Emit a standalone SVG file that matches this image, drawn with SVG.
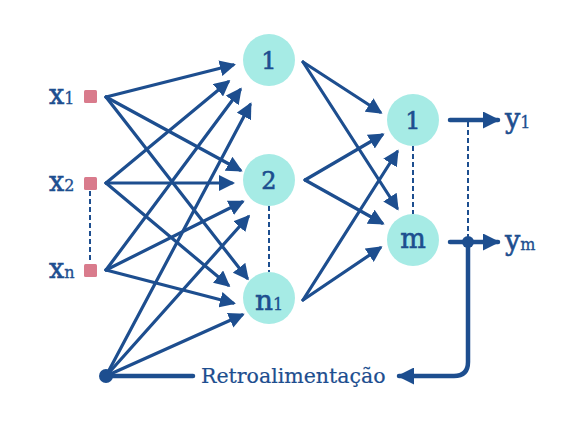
<svg xmlns="http://www.w3.org/2000/svg" width="584" height="446" viewBox="0 0 584 446">
<style>
.ln{stroke:#1d4e8f;stroke-width:3.2;fill:none;stroke-linecap:round}
.thk{stroke:#1d4e8f;stroke-width:4.5;fill:none;stroke-linecap:round}
.dash{stroke:#1d4e8f;stroke-width:2;stroke-dasharray:5,3;fill:none}
.node{fill:#a6ebe5}
.inp{fill:#d97b8c}
.t{font-family:"DejaVu Serif","Liberation Serif",serif;fill:#1d4e8f}
.b{stroke:#1d4e8f;stroke-width:0.6}
</style>
<defs>
<marker id="ah" markerUnits="userSpaceOnUse" viewBox="0 0 16 16" markerWidth="16" markerHeight="16" refX="13" refY="8" orient="auto">
<path d="M0,0 L16,8 L0,16 z" fill="#1d4e8f"/>
</marker>
<marker id="ah2" markerUnits="userSpaceOnUse" viewBox="0 0 17 17" markerWidth="17" markerHeight="17" refX="15" refY="8.5" orient="auto">
<path d="M0,0 L17,8.5 L0,17 z" fill="#1d4e8f"/>
</marker>
</defs>
<rect width="584" height="446" fill="#ffffff"/>
<g id="connectors">
<line class="ln" x1="106" y1="97" x2="233" y2="65" marker-end="url(#ah)"/>
<line class="ln" x1="106" y1="97" x2="240" y2="170" marker-end="url(#ah)"/>
<line class="ln" x1="106" y1="97" x2="247" y2="278" marker-end="url(#ah)"/>
<line class="ln" x1="106" y1="183" x2="228" y2="82" marker-end="url(#ah)"/>
<line class="ln" x1="106" y1="183" x2="232" y2="183" marker-end="url(#ah)"/>
<line class="ln" x1="106" y1="183" x2="228" y2="285" marker-end="url(#ah)"/>
<line class="ln" x1="106" y1="270" x2="240" y2="90" marker-end="url(#ah)"/>
<line class="ln" x1="106" y1="270" x2="242" y2="202" marker-end="url(#ah)"/>
<line class="ln" x1="106" y1="270" x2="233" y2="303" marker-end="url(#ah)"/>
<line class="ln" x1="106" y1="376" x2="250" y2="105" marker-end="url(#ah)"/>
<line class="ln" x1="106" y1="376" x2="248" y2="217" marker-end="url(#ah)"/>
<line class="ln" x1="106" y1="376" x2="242" y2="315" marker-end="url(#ah)"/>
<line class="ln" x1="303" y1="62" x2="380" y2="112" marker-end="url(#ah)"/>
<line class="ln" x1="303" y1="62" x2="397" y2="208" marker-end="url(#ah)"/>
<line class="ln" x1="305" y1="180" x2="382" y2="135" marker-end="url(#ah)"/>
<line class="ln" x1="305" y1="180" x2="382" y2="223" marker-end="url(#ah)"/>
<line class="ln" x1="303" y1="300" x2="397" y2="152" marker-end="url(#ah)"/>
<line class="ln" x1="303" y1="300" x2="380" y2="248" marker-end="url(#ah)"/>
<line class="thk" x1="450" y1="120" x2="498" y2="120" marker-end="url(#ah2)"/>
<line class="thk" x1="450" y1="242" x2="498" y2="242" marker-end="url(#ah2)"/>
<path class="thk" d="M468,242 V362 Q468,376 454,376 H399" marker-end="url(#ah2)"/>
<line class="thk" x1="106" y1="376" x2="193" y2="376"/>
<line class="dash" x1="90" y1="191" x2="90" y2="263"/>
<line class="dash" x1="269" y1="206" x2="269" y2="272"/>
<line class="dash" x1="413" y1="146" x2="413" y2="214"/>
<line class="dash" x1="468" y1="122" x2="468" y2="240"/>
<circle cx="468" cy="242" r="6" fill="#1d4e8f"/>
<circle cx="106" cy="376" r="7" fill="#1d4e8f"/>
</g>
<g id="in1"><rect class="inp" x="84" y="90" width="13" height="13" rx="1.5"/><text class="t b" x="49" y="104" font-size="27">x<tspan font-size="16" stroke-width="0.3">1</tspan></text></g>
<g id="in2"><rect class="inp" x="84" y="177" width="13" height="13" rx="1.5"/><text class="t b" x="49" y="191" font-size="27">x<tspan font-size="16" stroke-width="0.3">2</tspan></text></g>
<g id="inn"><rect class="inp" x="84" y="264" width="13" height="13" rx="1.5"/><text class="t b" x="49" y="278" font-size="27">x<tspan font-size="16" stroke-width="0.3">n</tspan></text></g>
<g id="h1"><circle class="node" cx="269" cy="60" r="26"/><text class="t b" x="269" y="69" font-size="24" text-anchor="middle">1</text></g>
<g id="h2"><circle class="node" cx="269" cy="180" r="26"/><text class="t b" x="269" y="189" font-size="24" text-anchor="middle">2</text></g>
<g id="hn"><circle class="node" cx="269" cy="298" r="26"/><text class="t b" x="269" y="310" font-size="28" text-anchor="middle">n<tspan font-size="16" stroke-width="0.3">1</tspan></text></g>
<g id="o1"><circle class="node" cx="413" cy="120" r="26"/><text class="t b" x="413" y="129" font-size="24" text-anchor="middle">1</text></g>
<g id="om"><circle class="node" cx="413" cy="240" r="26"/><text class="t b" x="413" y="248" font-size="27" text-anchor="middle">m</text></g>
<g id="y1"><text class="t b" x="505" y="128" font-size="27">y<tspan font-size="16" stroke-width="0.3">1</tspan></text></g>
<g id="ym"><text class="t b" x="505" y="250" font-size="27">y<tspan font-size="16" stroke-width="0.3">m</tspan></text></g>
<g id="fb"><text class="t" x="201" y="383" font-size="20.5" stroke="#1d4e8f" stroke-width="0.2">Retroalimentação</text></g>
</svg>
